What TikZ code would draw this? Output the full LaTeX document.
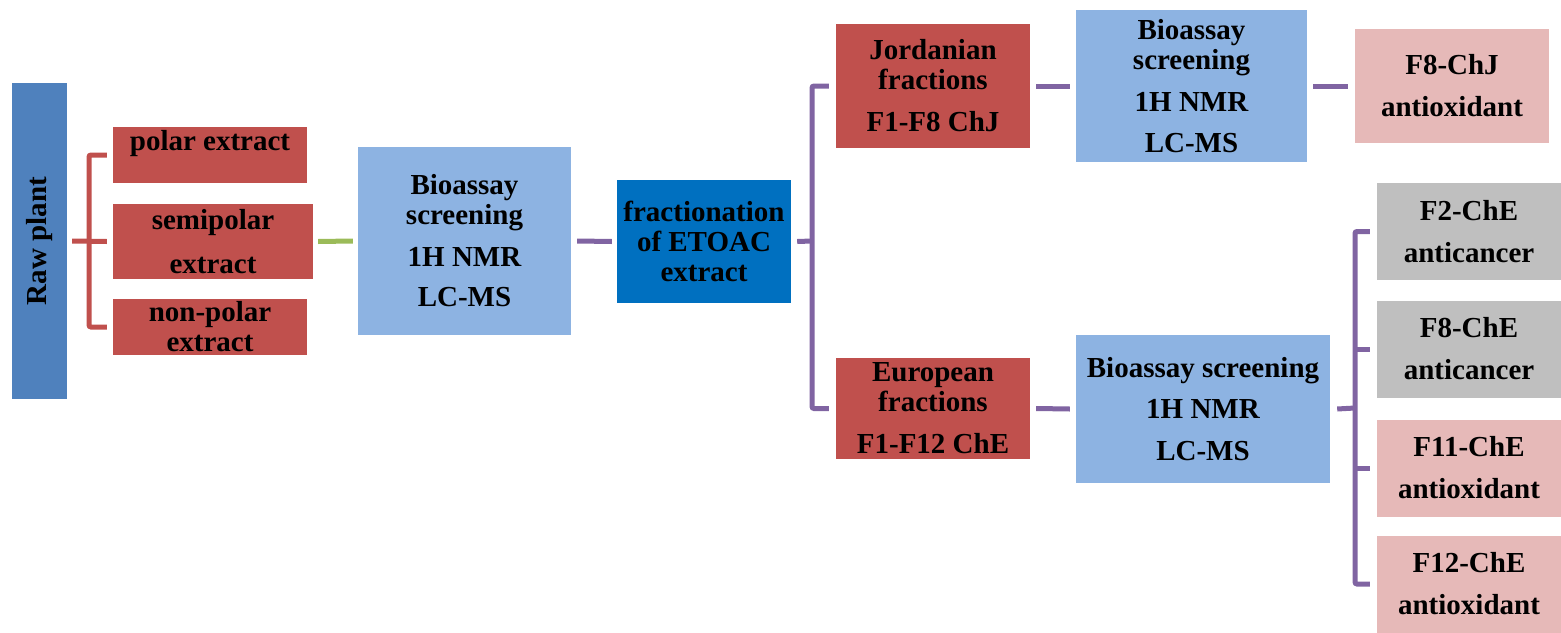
\documentclass[tikz,border=0pt]{standalone}
\usepackage{fontspec}
\setmainfont{Liberation Serif}
\usepackage{xcolor}
\usepackage{tikz}
\usetikzlibrary{calc,positioning}

\definecolor{rawblue}{HTML}{4F81BD}
\definecolor{extred}{HTML}{C0504D}
\definecolor{lightblue}{HTML}{8DB3E2}
\definecolor{deepblue}{HTML}{0070C0}
\definecolor{greybox}{HTML}{BFBFBF}
\definecolor{pinkbox}{HTML}{E6B9B8}
\definecolor{lnpurple}{HTML}{8064A2}
\definecolor{lngreen}{HTML}{9BBB59}

\begin{document}
\begin{tikzpicture}[x=1pt, y=-1pt,
		box/.style={inner sep=0pt, align=center, font=\fontsize{29}{30}\selectfont\bfseries},
		redbox/.style={box, fill=extred},
		bluebox/.style={box, fill=lightblue},
		greybx/.style={box, fill=greybox, minimum width=184pt, minimum height=97pt},
		pinkbx/.style={box, fill=pinkbox, minimum width=184pt, minimum height=97pt},
		redln/.style={draw=extred, line width=5pt, rounded corners=2pt},
		purln/.style={draw=lnpurple, line width=5pt, rounded corners=2pt}]
		\useasboundingbox (0,0) rectangle (1561,632);
		\node[box, fill=rawblue, rotate=90, minimum width=316pt, minimum height=55pt] (raw) at (39.5,241) {Raw plant};
		\node[redbox, minimum width=194pt, minimum height=56pt] (polar) at (210,155) {polar extract\\\mbox{}};
		\node[redbox, minimum width=200pt, minimum height=75pt] (semi) at (213,241.5) {semipolar\\[14pt]extract};
		\node[redbox, minimum width=194pt, minimum height=56pt] (nonpolar) at (210,327) {non-polar\\extract};
		\node[bluebox, minimum width=213pt, minimum height=188pt] (bioa) at (464.5,241) {Bioassay\\screening\\[12pt]1H NMR\\[10pt]LC-MS};
		\node[box, fill=deepblue, minimum width=174pt, minimum height=123pt] (frac) at (704,241.5) {fractionation\\of ETOAC\\extract};
		\node[redbox, minimum width=194pt, minimum height=124pt] (jord) at (933,86) {Jordanian\\fractions\\[12pt]F1-F8 ChJ};
		\node[bluebox, minimum width=231pt, minimum height=152pt] (biob) at (1191.5,86) {Bioassay\\screening\\[12pt]1H NMR\\[11pt]LC-MS};
		\node[pinkbx, minimum width=194pt, minimum height=114pt] (fchj) at (1452,86) {F8-ChJ\\[12pt]antioxidant};
		\node[redbox, minimum width=194pt, minimum height=101pt] (euro) at (933,408.5) {European\\fractions\\[12pt]F1-F12 ChE};
		\node[bluebox, minimum width=254pt, minimum height=148pt] (bioc) at (1203,409) {Bioassay screening\\[11pt]1H NMR\\[12pt]LC-MS};
		\node[greybx] (ftwo) at (1469,231.5) {F2-ChE\\[12pt]anticancer};
		\node[greybx] (feight) at (1469,349) {F8-ChE\\[12pt]anticancer};
		\node[pinkbx] (feleven) at (1469,468) {F11-ChE\\[12pt]antioxidant};
		\node[pinkbx] (ftwelve) at (1469,584) {F12-ChE\\[12pt]antioxidant};
		\coordinate (rb) at (89,241);
		\coordinate (pb) at (812,241);
		\coordinate (qb) at (1355,408);
		\draw[redln] ([xshift=5pt]raw.south) -- ([xshift=-6pt]semi.west);
		\draw[redln] ([xshift=-6pt]polar.west) -| (rb) |- ([xshift=-6pt]nonpolar.west);
		\draw[draw=lngreen, line width=5pt] ([xshift=5pt]semi.east) -- ([xshift=-5pt]bioa.west);
		\draw[purln] ([xshift=6pt]bioa.east) -- ([xshift=-5pt]frac.west);
		\draw[purln] ([xshift=6pt]frac.east) -- (pb);
		\draw[purln] ([xshift=-7pt]jord.west) -| (pb) |- ([xshift=-7pt]euro.west);
		\draw[purln] ([xshift=6pt]jord.east) -- ([xshift=-6pt]biob.west);
		\draw[purln] ([xshift=6pt]biob.east) -- ([xshift=-7pt]fchj.west);
		\draw[purln] ([xshift=6pt]euro.east) -- ([xshift=-6pt]bioc.west);
		\draw[purln] ([xshift=7pt]bioc.east) -- (qb);
		\draw[purln] ([xshift=-7pt]ftwo.west) -| (qb) |- ([xshift=-7pt]ftwelve.west);
		\draw[purln] ([xshift=-7pt]feight.west) -- (feight.west -| qb);
		\draw[purln] ([xshift=-7pt]feleven.west) -- (feleven.west -| qb);
	\end{tikzpicture}
\end{document}
